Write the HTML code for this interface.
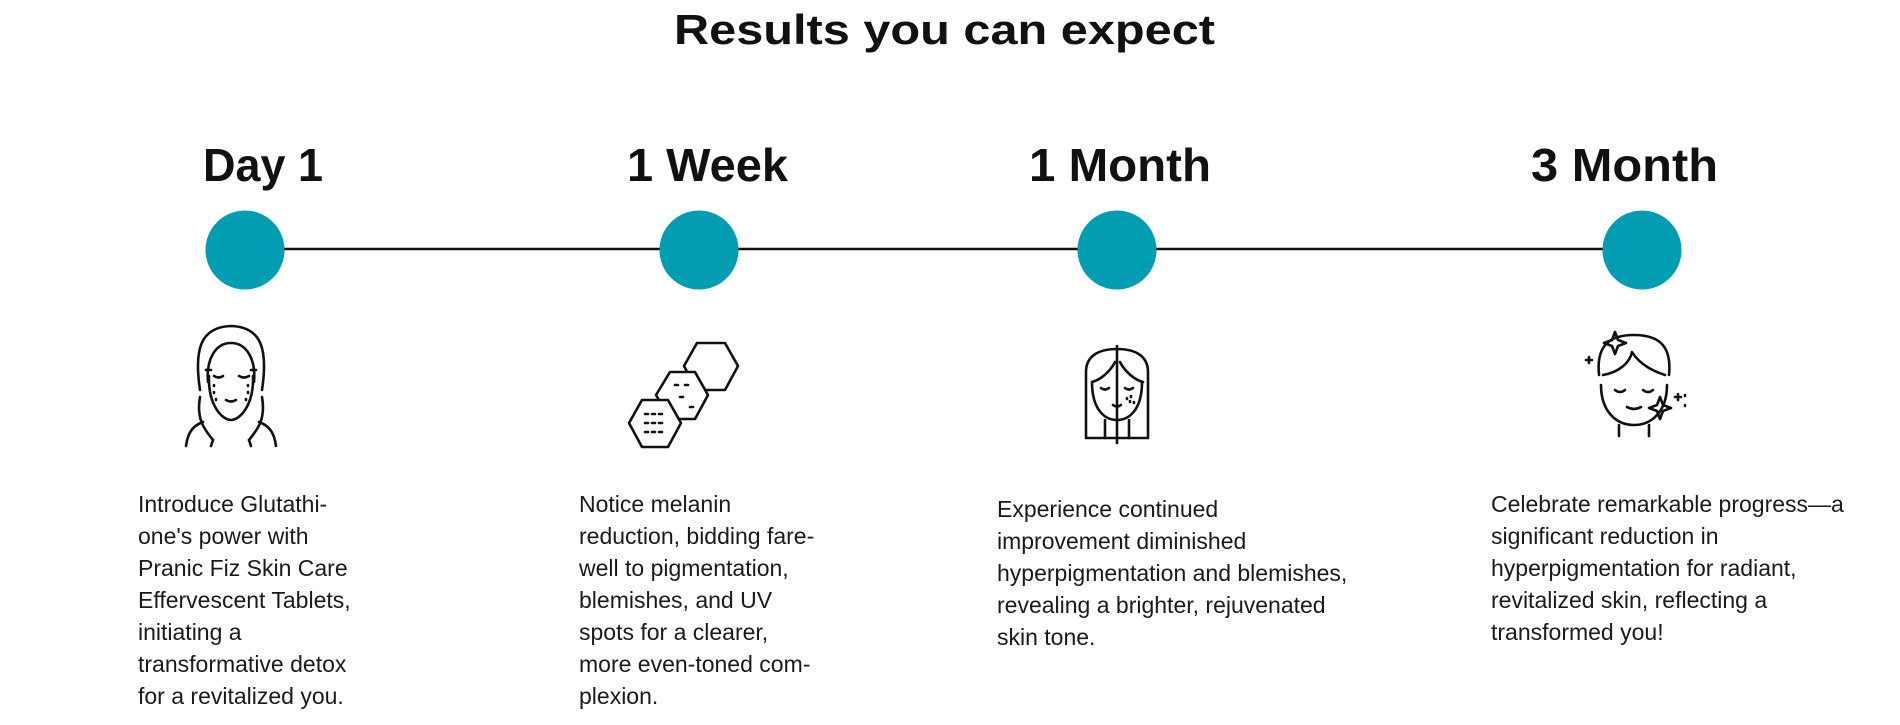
<!DOCTYPE html>
<html><head><meta charset="utf-8"><style>
html,body{margin:0;padding:0;background:#fff;}
svg{display:block}
.h{font-family:"Liberation Sans",sans-serif;font-weight:bold;fill:#111;}
.p{font-family:"Liberation Sans",sans-serif;font-size:23px;fill:#1a1a1a;}
.ic{fill:none;stroke:#111;stroke-width:2.6;stroke-linecap:round;stroke-linejoin:round}
</style></head><body>
<svg width="1900" height="725" viewBox="0 0 1900 725" xmlns="http://www.w3.org/2000/svg">
<text class="h" x="674" y="44" font-size="42" textLength="541" lengthAdjust="spacingAndGlyphs">Results you can expect</text>
<text class="h" x="203" y="181" font-size="46" textLength="120" lengthAdjust="spacingAndGlyphs">Day 1</text>
<text class="h" x="627" y="181" font-size="46" textLength="161" lengthAdjust="spacingAndGlyphs">1 Week</text>
<text class="h" x="1029" y="181" font-size="46" textLength="182" lengthAdjust="spacingAndGlyphs">1 Month</text>
<text class="h" x="1531" y="181" font-size="46" textLength="187" lengthAdjust="spacingAndGlyphs">3 Month</text>
<line x1="245" y1="249" x2="1642" y2="249" stroke="#111" stroke-width="2.5"/>
<g fill="#029db3">
<circle cx="245" cy="250" r="39.5"/><circle cx="699" cy="250" r="39.5"/>
<circle cx="1117" cy="250" r="39.5"/><circle cx="1642" cy="250" r="39.5"/>
</g>
<g class="ic">
<path d="M200 390 C194 350 200 327 231 326 C262 327 268 350 262 390"/>
<path d="M208 382 C206 360 215 343 231 343 C247 343 256 360 254 382"/>
<path d="M209 376 C208 405 222 420 231 420 C240 420 254 405 253 376"/>
<path d="M211 370 L206 370 M251 370 L256 370"/>
<path d="M214 376 Q219 379 223 376 M239 376 Q244 379 249 376"/>
<path d="M226 400 Q231 403 236 400"/>
<path d="M200 397 C196 420 205 430 213 440 M262 397 C266 420 257 430 249 440"/>
<path d="M186 446 C188 430 195 425 203 422 M276 446 C274 430 267 425 259 422"/>
<path d="M213 440 L211 446 M249 440 L251 446"/>
<path d="M214 385 l0 1 M214 392 l0 1 M216 399 l0 1 M248 385 l0 1 M248 392 l0 1 M246 399 l0 1"/>
</g>
<g class="ic">
<path d="M697 343 L725 343 L738 366 L725 390 L697 390 L684 366 Z"/>
<path d="M670 372 L695 372 L708 395 L695 419 L670 419 L656 395 Z" fill="#fff"/>
<path d="M642 400 L668 400 L681 423 L668 447 L642 447 L629 423 Z" fill="#fff"/>
<path d="M675 385 l3 0 M685 385 l3 0 M680 397 l3 0 M690 407 l3 0"/>
<path d="M645 414 l3 0 M652 414 l3 0 M659 414 l3 0 M645 423 l3 0 M652 423 l3 0 M659 423 l3 0 M645 432 l3 0 M652 432 l3 0 M659 432 l3 0"/>
</g>
<g class="ic" stroke-width="2">
<path d="M1086 438 L1086 372 C1086 355 1100 349 1117 349 C1134 349 1148 355 1148 372 L1148 438 Z"/>
<line x1="1117" y1="346" x2="1117" y2="443"/>
<path d="M1092 382 C1100 380 1110 372 1115 362 M1120 362 C1125 372 1135 380 1143 382"/>
<path d="M1092 382 C1092 410 1105 420 1117 420 C1129 420 1142 410 1142 382"/>
<path d="M1101 388 Q1105 391 1109 388 M1125 388 Q1129 391 1133 388"/>
<path d="M1113 405 Q1117 408 1121 405"/>
<path d="M1127 398 l0 1 M1131 396 l0 1 M1130 401 l0 1 M1134 402 l0 1"/>
<path d="M1105 420 L1105 438 M1129 420 L1129 438"/>
</g>
<g class="ic" stroke-width="2.4">
<path d="M1599 375 C1596 345 1610 335 1634 335 C1658 335 1672 345 1669 375"/>
<path d="M1601 385 C1601 410 1615 425 1634 425 C1653 425 1667 410 1667 385"/>
<path d="M1603 375 C1620 372 1630 362 1632 352 C1640 365 1655 372 1665 375"/>
<path d="M1615 390 Q1620 394 1625 390 M1643 390 Q1648 394 1653 390"/>
<path d="M1627 407 Q1634 411 1641 407"/>
<path d="M1619 425 L1619 436 M1649 425 L1649 436"/>
<path d="M1612 340 l3 -8 l3 8 l8 3 l-8 3 l-3 8 l-3 -8 l-8 -3 Z"/>
<path d="M1657 405 l3 -8 l3 8 l8 3 l-8 3 l-3 8 l-3 -8 l-8 -3 Z"/>
<path d="M1586 360 l6 0 M1589 357 l0 6 M1675 397 l6 0 M1678 394 l0 6 M1685 395 l0 1 M1685 405 l0 1"/>
</g>
<text class="p" x="138" y="512">
<tspan x="138" dy="0">Introduce Glutathi-</tspan>
<tspan x="138" dy="32">one's power with</tspan>
<tspan x="138" dy="32">Pranic Fiz Skin Care</tspan>
<tspan x="138" dy="32">Effervescent Tablets,</tspan>
<tspan x="138" dy="32">initiating a</tspan>
<tspan x="138" dy="32">transformative detox</tspan>
<tspan x="138" dy="32">for a revitalized you.</tspan>
</text>
<text class="p" x="579" y="512">
<tspan x="579" dy="0">Notice melanin</tspan>
<tspan x="579" dy="32">reduction, bidding fare-</tspan>
<tspan x="579" dy="32">well to pigmentation,</tspan>
<tspan x="579" dy="32">blemishes, and UV</tspan>
<tspan x="579" dy="32">spots for a clearer,</tspan>
<tspan x="579" dy="32">more even-toned com-</tspan>
<tspan x="579" dy="32">plexion.</tspan>
</text>
<text class="p" x="997" y="517">
<tspan x="997" dy="0">Experience continued</tspan>
<tspan x="997" dy="32">improvement diminished</tspan>
<tspan x="997" dy="32">hyperpigmentation and blemishes,</tspan>
<tspan x="997" dy="32">revealing a brighter, rejuvenated</tspan>
<tspan x="997" dy="32">skin tone.</tspan>
</text>
<text class="p" x="1491" y="512">
<tspan x="1491" dy="0">Celebrate remarkable progress—a</tspan>
<tspan x="1491" dy="32">significant reduction in</tspan>
<tspan x="1491" dy="32">hyperpigmentation for radiant,</tspan>
<tspan x="1491" dy="32">revitalized skin, reflecting a</tspan>
<tspan x="1491" dy="32">transformed you!</tspan>
</text>
</svg>
</body></html>
